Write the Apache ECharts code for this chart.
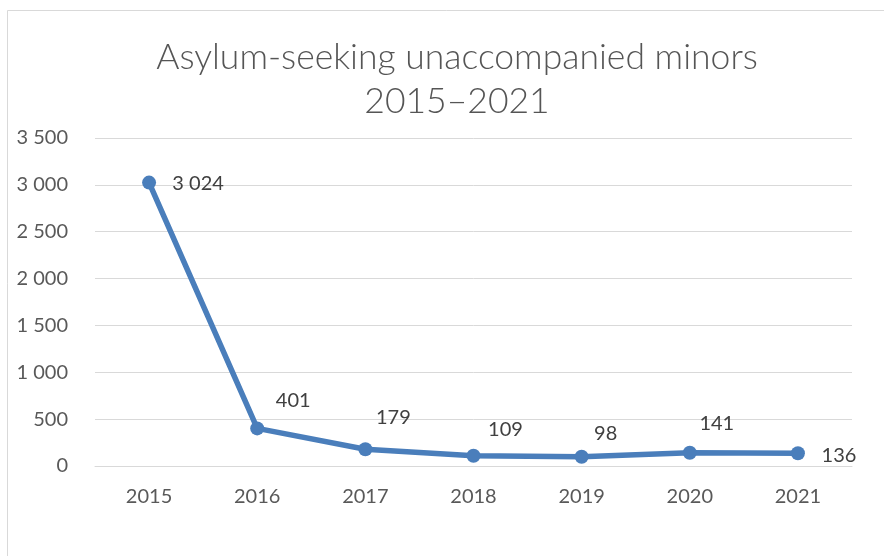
<!DOCTYPE html>
<html>
<head>
<meta charset="utf-8">
<script src="https://cdn.jsdelivr.net/npm/echarts@6/dist/echarts.min.js"></script>
<style>html,body{margin:0;padding:0;background:#fff}#c{width:884px;height:556px}</style>
</head>
<body>
<div id="c"></div>
<script>
const years = ['2015', '2016', '2017', '2018', '2019', '2020', '2021'];
const minors = [3024, 401, 179, 109, 98, 141, 136];
const titleLines = ['Asylum-seeking unaccompanied minors', '2015\u20132021'];

// label offsets (style only)
const labelOffsets = [[49, 1], [36, -28], [28, -32], [32, -26], [24, -23], [27, -29], [41, 2]];

const fmt = v => String(v).replace(/\B(?=(\d{3})+(?!\d))/g, ' ');
const FONT = 'Lato, "Open Sans", sans-serif';

const chart = echarts.init(document.getElementById('c'), null, {renderer: 'canvas'});
chart.setOption({
  animation: false,
  backgroundColor: '#fff',
  title: {
    text: titleLines.join('\n'),
    left: 452, top: 31, textAlign: 'center',
    textStyle: {fontFamily: FONT, fontWeight: 300, fontSize: 35.5, color: '#555555', lineHeight: 44}
  },
  graphic: [{
    type: 'polyline', silent: true,
    shape: {points: [[7.5, 600], [7.5, 10.5], [900, 10.5]]},
    style: {stroke: '#d9d9d9', lineWidth: 1, fill: null}
  }],
  grid: {left: 95, right: 32, top: 138, bottom: 90},
  xAxis: {
    type: 'category', data: years, boundaryGap: true,
    axisLine: {show: true, lineStyle: {color: '#d9d9d9', width: 1}},
    axisTick: {show: false},
    axisLabel: {fontFamily: FONT, fontSize: 20, color: '#595959', margin: 21}
  },
  yAxis: {
    type: 'value', min: 0, max: 3500, interval: 500,
    axisLine: {show: false}, axisTick: {show: false},
    splitLine: {lineStyle: {color: '#d9d9d9', width: 1}},
    axisLabel: {fontFamily: FONT, fontSize: 20, color: '#595959', margin: 27, formatter: fmt}
  },
  series: [{
    type: 'line',
    data: minors.map((v, i) => ({
      value: v,
      label: {offset: labelOffsets[i]}
    })),
    symbol: 'circle', symbolSize: 14,
    lineStyle: {color: '#4a7ebb', width: 5.5},
    itemStyle: {color: '#4a7ebb'},
    label: {
      show: true, position: 'inside',
      fontFamily: FONT, fontSize: 20, color: '#404040',
      formatter: p => fmt(p.value)
    }
  }]
});
</script>
</body>
</html>
